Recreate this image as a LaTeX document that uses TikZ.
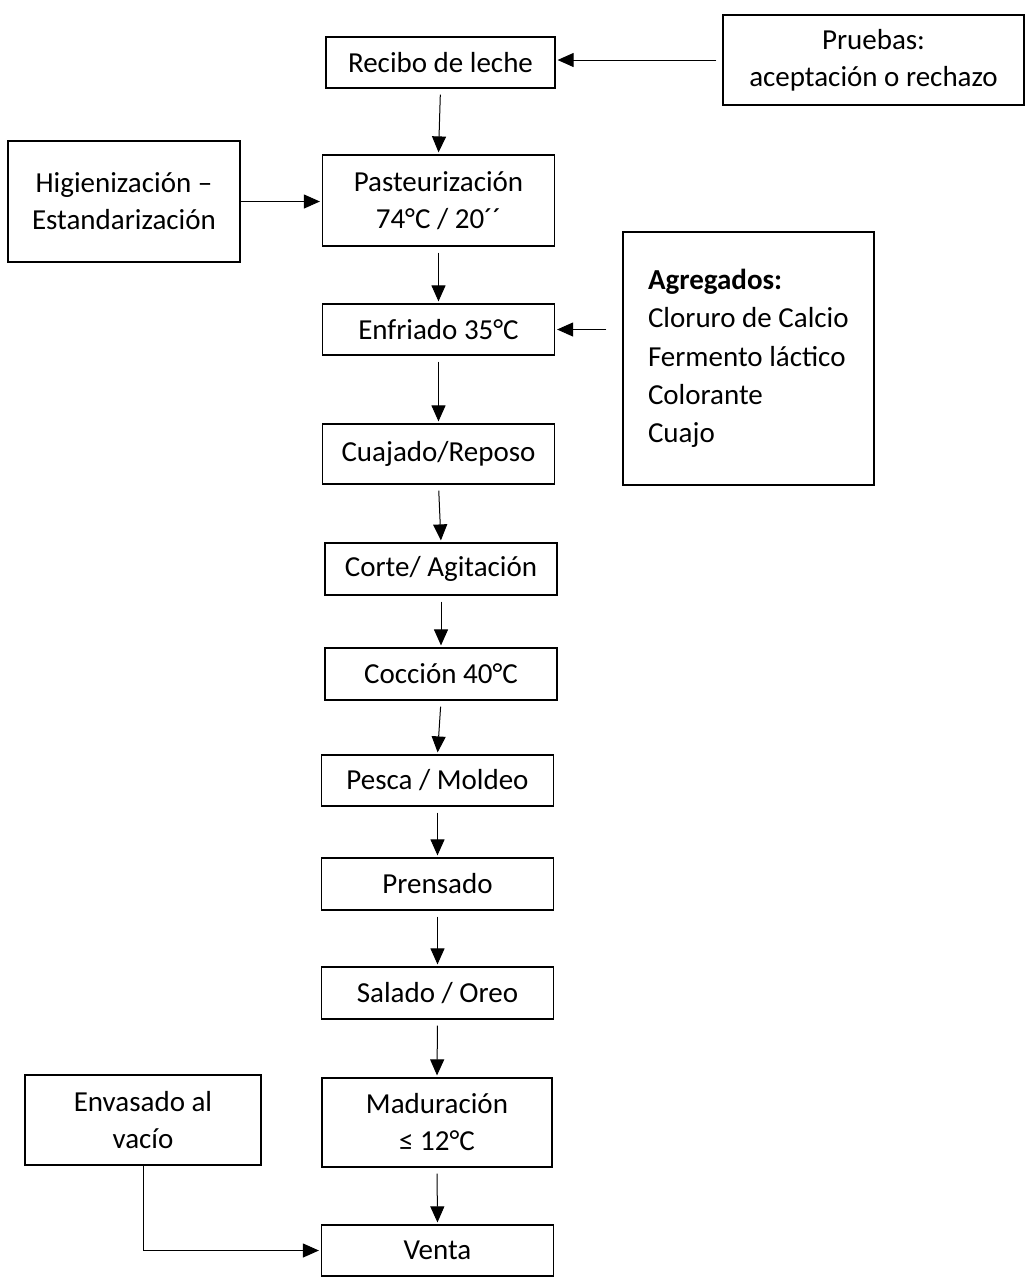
\documentclass[tikz,border=0pt]{standalone}
\usepackage{fontspec}
\setmainfont{Carlito}
\usetikzlibrary{arrows.meta}
\tikzset{
  proc/.style={draw, line width=0.6pt, minimum width=116pt, minimum height=25.5pt,
    inner sep=0pt, align=center, font=\fontsize{14.5}{18.5}\selectfont},
  flow/.style={->, line width=0.5pt, shorten <=3pt, shorten >=1pt},
}
\begin{document}
\begin{tikzpicture}[>={Triangle[length=8pt,width=7pt]}, x=0.5pt, y=-0.5pt]
		\useasboundingbox (0,0) rectangle (1026,1281);
		% main column
		\node[proc, minimum width=114.5pt] (recibo) at (440.5,62.5) {Recibo de leche};
		\node[proc, minimum height=45.5pt] (pasteur) at (438.5,200.5) {Pasteurización\\74°C / 20´´};
		\node[proc] (enfriado) at (438.5,329.5) {Enfriado 35°C};
		\node[proc, minimum height=30pt] (cuajado) at (438.5,454) {Cuajado/Reposo};
		\node[proc, minimum height=26pt] (corte) at (441,569) {Corte/ Agitación};
		\node[proc, minimum height=26pt] (coccion) at (441,674) {Cocción 40°C};
		\node[proc] (pesca) at (437.5,780.5) {Pesca / Moldeo};
		\node[proc, minimum height=26pt] (prensado) at (437.5,884) {Prensado};
		\node[proc, minimum height=26pt] (salado) at (437.5,993) {Salado / Oreo};
		\node[proc, minimum width=115pt, minimum height=44.5pt] (madura) at (437,1122.5) {Maduración\\≤ 12°C};
		\node[proc] (venta) at (437.5,1250.5) {Venta};
		% side boxes
		\node[proc, minimum width=150.5pt, minimum height=45pt] (pruebas) at (873.5,60) {Pruebas:\\aceptación o rechazo};
		\node[proc, minimum height=60.5pt] (higien) at (124,201.5) {Higienización –\\Estandarización};
		\node[proc, minimum height=126.5pt, text width=100.5pt, inner xsep=12.5pt, align=flush left,
			font=\fontsize{14.5}{19.2}\selectfont] (agreg) at (748.5,358.5)
			{\textbf{Agregados:}\\Cloruro de Calcio\\Fermento láctico\\Colorante\\Cuajo};
		\node[proc, minimum width=118pt, minimum height=45pt] (envasado) at (143,1120) {Envasado al\\vacío};
		% arrows
		\foreach \a/\b in {recibo/pasteur,pasteur/enfriado,enfriado/cuajado,cuajado/corte,corte/coccion,
			coccion/pesca,pesca/prensado,prensado/salado,salado/madura,madura/venta}
		\draw[flow] (\a.south) -- (\b.north);
		\draw[flow] (pruebas.west) -- (pruebas.west -| recibo.east);
		\draw[flow, shorten <=0pt] (higien.east) -- (higien.east -| pasteur.west);
		\draw[flow, shorten <=8pt] (agreg.west |- enfriado.east) -- (enfriado.east);
		\draw[flow, shorten <=0pt] (envasado.south) |- (venta.west);
\end{tikzpicture}
\end{document}
